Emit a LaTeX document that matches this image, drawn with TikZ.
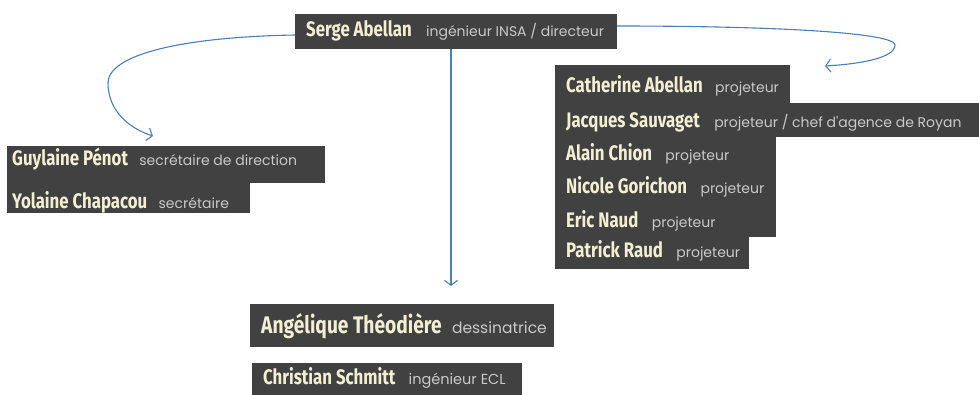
\documentclass[tikz,border=0pt]{standalone}
\usepackage{fontspec}
\usetikzlibrary{arrows.meta}
\newfontfamily\namefam[FakeStretch=0.8]{Fira Sans}
\newfontfamily\rolefam{Poppins}
\definecolor{boxgrey}{HTML}{414141}
\definecolor{namecol}{HTML}{F2EFD2}
\definecolor{rolecol}{HTML}{C9C9C9}
\definecolor{linkblue}{HTML}{4A7EBB}
\tikzset{
  box/.style={fill=boxgrey, draw=none, inner sep=0pt, outer sep=0pt, anchor=north west},
  who/.style={anchor=base west, inner sep=0pt, text=namecol, font=\namefam\bfseries\fontsize{21}{21}\selectfont},
  role/.style={anchor=base west, inner sep=0pt, text=rolecol, font=\rolefam\fontsize{14}{15}\selectfont},
  link/.style={draw=linkblue, line width=1.1pt, -{Straight Barb[length=5pt,width=13pt]}}
}
\begin{document}
\begin{tikzpicture}[x=1pt,y=-1pt]
\useasboundingbox (0,0) rectangle (979,394);
% boxes
\node[box, minimum width=322pt, minimum height=35pt] (serge) at (295,14) {};
\node[box, minimum width=235pt, minimum height=38pt] (catherine) at (555,65) {};
\node[box, minimum width=430pt, minimum height=34pt] (jacques) at (555,103) {};
\node[box, minimum width=221pt, minimum height=34pt] (alain) at (555,137) {};
\node[box, minimum width=221pt, minimum height=34pt] (nicole) at (555,171) {};
\node[box, minimum width=221pt, minimum height=32pt] (eric) at (555,205) {};
\node[box, minimum width=194pt, minimum height=32pt] (patrick) at (555,237) {};
\node[box, minimum width=318pt, minimum height=37pt] (guylaine) at (7,146) {};
\node[box, minimum width=243pt, minimum height=30pt] (yolaine) at (7,183) {};
\node[box, minimum width=304pt, minimum height=43pt] (angelique) at (250,304) {};
\node[box, minimum width=270pt, minimum height=34pt] (christian) at (252,363) {};
% texts
\node[who] (n1) at (306,36) {Serge Abellan};
\node[role] (r1) at ([xshift=14pt]n1.base east) {ingénieur INSA / directeur};
\node[who] (n2) at (566,92) {Catherine Abellan};
\node[role] (r2) at ([xshift=12pt]n2.base east) {projeteur};
\node[who] (n3) at (566,127) {Jacques Sauvaget};
\node[role] (r3) at ([xshift=14pt]n3.base east) {projeteur / chef d'agence de Royan};
\node[who] (n4) at (566,160) {Alain Chion};
\node[role] (r4) at ([xshift=13pt]n4.base east) {projeteur};
\node[who] (n5) at (566,193) {Nicole Gorichon};
\node[role] (r5) at ([xshift=13pt]n5.base east) {projeteur};
\node[who] (n6) at (566,227) {Eric Naud};
\node[role] (r6) at ([xshift=13pt]n6.base east) {projeteur};
\node[who] (n7) at (566,257) {Patrick Raud};
\node[role] (r7) at ([xshift=13pt]n7.base east) {projeteur};
\node[who] (n8) at (12,165) {Guylaine Pénot};
\node[role] (r8) at ([xshift=11pt]n8.base east) {secrétaire de direction};
\node[who] (n9) at (12,208) {Yolaine Chapacou};
\node[role] (r9) at ([xshift=11pt]n9.base east) {secrétaire};
\node[who, font=\namefam\bfseries\fontsize{24}{24}\selectfont] (n10) at (261,333) {Angélique Théodière};
\node[role, font=\rolefam\fontsize{15.5}{16}\selectfont] (r10) at ([xshift=10pt]n10.base east) {dessinatrice};
\node[who] (n11) at (263,384) {Christian Schmitt};
\node[role, font=\rolefam\fontsize{14.5}{15}\selectfont] (r11) at ([xshift=13pt]n11.base east) {ingénieur ECL};
% connectors
\coordinate (leftend) at (153,136);
\coordinate (rightend) at (825,66);
\coordinate (downend) at (451,286);
\draw[link] ([yshift=-3.5pt]serge.west) .. controls (180,37) and (108,55) .. (108,83)
  .. controls (108,110) and (128,128) .. (leftend);
\draw[link] ([yshift=5.5pt]serge.east) .. controls (780,26) and (895,33) .. (895,45)
  .. controls (895,58) and (860,64) .. (rightend);
\draw[link] (serge.south -| downend) -- (downend);
\end{tikzpicture}
\end{document}
